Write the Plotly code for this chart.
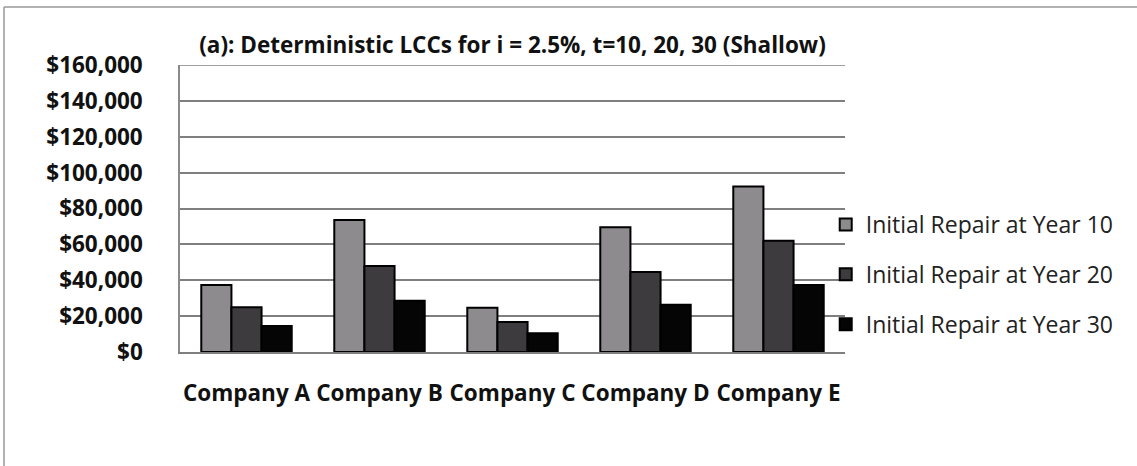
import plotly.graph_objects as go

categories = ["Company A", "Company B", "Company C", "Company D", "Company E"]
series_names = ["Initial Repair at Year 10", "Initial Repair at Year 20", "Initial Repair at Year 30"]
year10 = [37300, 73600, 24700, 69500, 92200]
year20 = [24900, 47900, 16700, 44600, 62000]
year30 = [14500, 28600, 10400, 26400, 37400]
colors = ["#8e8b8e", "#3d3b3e", "#050505"]
tick_vals = [0, 20000, 40000, 60000, 80000, 100000, 120000, 140000, 160000]
tick_text = ["$0", "$20,000", "$40,000", "$60,000", "$80,000", "$100,000", "$120,000", "$140,000", "$160,000"]

FONT = "Open Sans"

fig = go.Figure()
for i, (name, vals) in enumerate(zip(series_names, [year10, year20, year30])):
    fig.add_trace(go.Bar(
        x=categories, y=vals, name=name,
        marker=dict(color=colors[i], line=dict(color="#000000", width=2)),
        legendgroup=f"g{i}",
    ))

fig.update_layout(
    width=1137, height=466,
    margin=dict(l=180, r=292, t=65, b=114, autoexpand=False),
    paper_bgcolor="#ffffff", plot_bgcolor="#ffffff",
    barmode="group", bargap=0.32, bargroupgap=0,
    title=dict(text="<b>(a): Deterministic LCCs for i = 2.5%, t=10, 20, 30 (Shallow)</b>",
               x=(180 + 845) / 2 / 1137, xanchor="center", y=1 - 45 / 466, yanchor="middle",
               font=dict(family=FONT, size=22.5, color="#111111")),
    showlegend=True,
    legend=dict(x=0.971, xanchor="left", y=(352 - 203) / 287, yanchor="top",
                traceorder="grouped", tracegroupgap=17,
                font=dict(family=FONT, size=23, color="#222222"),
                bgcolor="rgba(0,0,0,0)"),
    yaxis=dict(range=[0, 160000], tickvals=tick_vals, ticktext=tick_text,
               showgrid=True, gridcolor="#7f7f7f", gridwidth=1.5,
               showline=True, linecolor="#8a8a8a", linewidth=1.5,
               zeroline=False, ticks="", ticklabelstandoff=31,
               tickfont=dict(family=FONT, size=22.5, color="#111111", weight="bold")),
    xaxis=dict(showgrid=False, showline=True, linecolor="#7f7f7f", linewidth=1.5,
               ticks="", ticklabelstandoff=20,
               tickfont=dict(family=FONT, size=22.5, color="#111111", weight="bold")),
    shapes=[
        dict(type="line", xref="paper", yref="y",
             x0=0, x1=1, y0=tick_vals[-1], y1=tick_vals[-1],
             line=dict(color="#7f7f7f", width=1.5)),
        dict(type="line", xref="paper", yref="paper",
             x0=-176 / 665, x1=(1137 - 180) / 665, y0=(466 - 114 - 7) / 287, y1=(466 - 114 - 7) / 287,
             line=dict(color="#999999", width=1.5)),
        dict(type="line", xref="paper", yref="paper",
             x0=-176 / 665, x1=-176 / 665, y0=-114 / 287, y1=(466 - 114 - 7) / 287,
             line=dict(color="#999999", width=1.5)),
    ],
)

fig.write_html("out.html", config={"displayModeBar": False},
               post_script="document.body.style.margin='0';")
